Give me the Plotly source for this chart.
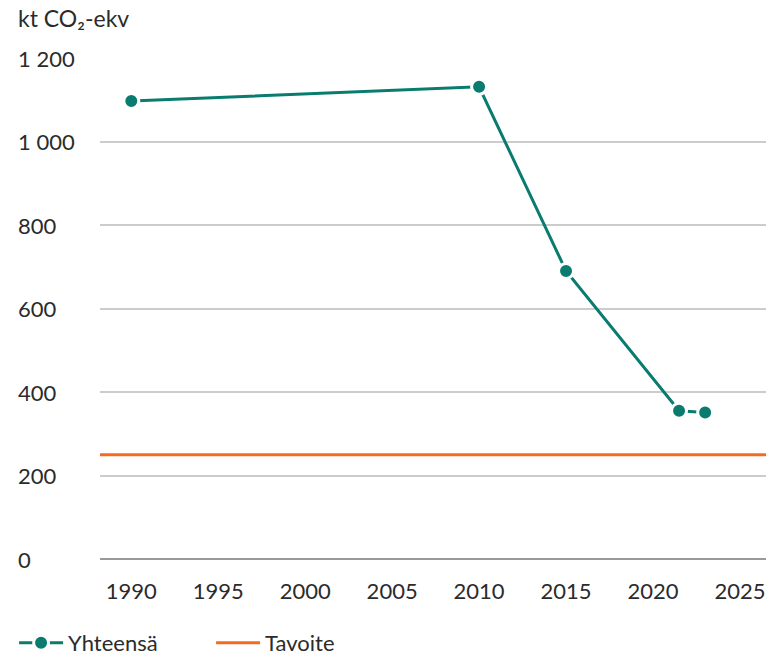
import plotly.graph_objects as go

years = [1990, 2010, 2015, 2021.5, 2023]
total = [1097, 1131, 690, 355, 351]
target_value = 250
x_ticks = [1990, 1995, 2000, 2005, 2010, 2015, 2020, 2025]
y_ticks = [0, 200, 400, 600, 800, 1000, 1200]
y_tick_labels = ["0", "200", "400", "600", "800", "1 000", "1 200"]

TEAL = "#0a7b6f"
ORANGE = "#f26b1f"
FONT = "Lato"
TXT = "#2b2b2b"
FS = 22

fig = go.Figure()
fig.add_trace(go.Scatter(
    x=years, y=total, name="Yhteensä", mode="lines+markers",
    line=dict(color=TEAL, width=3),
    marker=dict(color=TEAL, size=15, line=dict(color="white", width=3)),
))
fig.add_trace(go.Scatter(
    x=[1988.2, 2026.5], y=[target_value, target_value], name="Tavoite",
    mode="lines", line=dict(color=ORANGE, width=3),
))

annotations = [dict(text=lab, x=-0.126, xref="paper", y=v, yref="y",
                    xanchor="left", yanchor="middle", showarrow=False,
                    font=dict(family=FONT, size=FS, color=TXT))
               for v, lab in zip(y_ticks, y_tick_labels)]
annotations.append(dict(text="kt CO₂-ekv", x=-0.126, xref="paper", y=1.08, yref="paper",
                        xanchor="left", yanchor="middle", showarrow=False,
                        font=dict(family=FONT, size=FS + 1, color=TXT)))

fig.update_layout(
    width=766, height=656,
    margin=dict(l=100, r=0, t=58, b=97, autoexpand=False),
    paper_bgcolor="white", plot_bgcolor="white",
    font=dict(family=FONT, size=FS, color=TXT),
    showlegend=True,
    legend=dict(orientation="h", x=-0.129, xanchor="left",
                y=-0.1677, yanchor="middle",
                font=dict(family=FONT, size=FS, color=TXT), itemwidth=44,
                entrywidth=138, entrywidthmode="pixels", itemclick=False),
    annotations=annotations,
    xaxis=dict(range=[1988.2, 2026.5], tickvals=x_ticks, showgrid=False,
               zeroline=False, showline=False, ticks="outside", ticklen=13,
               tickcolor="rgba(0,0,0,0)", tickfont=dict(family=FONT, size=FS, color=TXT)),
    yaxis=dict(range=[0, 1200], tickvals=y_ticks, showticklabels=False,
               showgrid=True, gridcolor="#cccccc", gridwidth=1.5,
               zeroline=True, zerolinecolor="#999999", zerolinewidth=1.5,
               showline=False),
)

fig.write_html("out.html", config={"displayModeBar": False},
               post_script="document.body.style.margin='0';")
